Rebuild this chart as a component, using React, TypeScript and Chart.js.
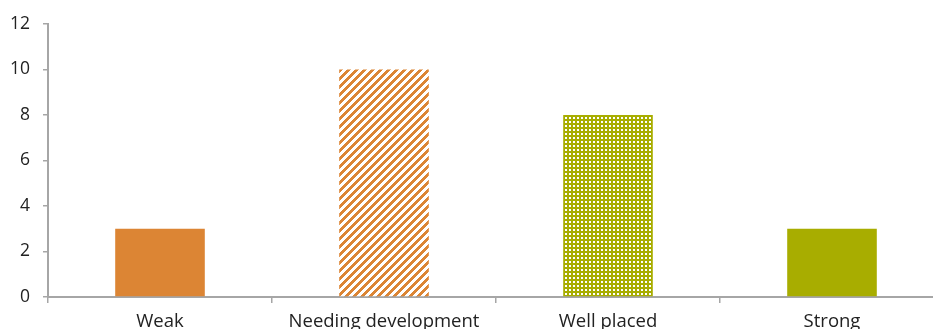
import React, { useEffect, useRef } from "react";
import { Chart, registerables } from "chart.js";

Chart.register(...registerables);

const categories = ["Weak", "Needing development", "Well placed", "Strong"];
const values = [3, 10, 8, 3];
const yTicks = [0, 2, 4, 6, 8, 10, 12];

const ORANGE = "#DC8534";
const OLIVE = "#A8AD00";

function stripePattern(): CanvasPattern | string {
  const c = document.createElement("canvas");
  c.width = 8;
  c.height = 8;
  const g = c.getContext("2d");
  if (!g) return ORANGE;
  g.fillStyle = "#ffffff";
  g.fillRect(0, 0, 8, 8);
  g.fillStyle = ORANGE;
  for (let y = 0; y < 8; y++) {
    for (let x = 0; x < 8; x++) {
      const d = (x + y) % 8;
      if (d < 4) g.fillRect(x, y, 1, 1);
    }
  }
  const p = g.createPattern(c, "repeat");
  return p || ORANGE;
}

function dotPattern(): CanvasPattern | string {
  const c = document.createElement("canvas");
  c.width = 4;
  c.height = 4;
  const g = c.getContext("2d");
  if (!g) return OLIVE;
  g.fillStyle = OLIVE;
  g.fillRect(0, 0, 4, 4);
  g.fillStyle = "#ffffff";
  g.fillRect(1, 1, 2, 2);
  const p = g.createPattern(c, "repeat");
  return p || OLIVE;
}

export default function App() {
  const ref = useRef<HTMLCanvasElement | null>(null);
  useEffect(() => {
    if (!ref.current) return;
    const fills = [ORANGE, stripePattern(), dotPattern(), OLIVE];
    const chart = new Chart(ref.current, {
      type: "bar",
      data: {
        labels: categories,
        datasets: [
          {
            data: values,
            backgroundColor: fills as any,
            borderWidth: 0,
            barPercentage: 0.4,
            categoryPercentage: 1,
          },
        ],
      },
      options: {
        animation: false,
        responsive: false,
        maintainAspectRatio: false,
        layout: { padding: { top: 24, right: 16, bottom: 0, left: 0 } },
        plugins: { legend: { display: false }, tooltip: { enabled: false } },
        scales: {
          x: {
            offset: true,
            grid: {
              offset: true,
              drawOnChartArea: false,
              drawTicks: true,
              tickLength: 6,
              color: "#A6A6A6",
              lineWidth: 1.5,
            },
            border: { display: true, color: "#A6A6A6", width: 2 },
            ticks: {
              color: "#222222",
              font: { family: "Open Sans", size: 18.5 },
              padding: 8,
              maxRotation: 0,
              autoSkip: false,
            },
            afterFit: (s: any) => {
              s.height = 48;
            },
          },
          y: {
            min: 0,
            max: 12,
            afterBuildTicks: (s: any) => {
              s.ticks = yTicks.map((v) => ({ value: v }));
            },
            grid: {
              drawOnChartArea: false,
              drawTicks: true,
              tickLength: 5,
              color: "#A6A6A6",
              lineWidth: 1.5,
            },
            border: { display: true, color: "#A6A6A6", width: 2 },
            ticks: {
              color: "#222222",
              font: { family: "Open Sans", size: 17.5 },
              padding: 13,
            },
            afterFit: (s: any) => {
              s.width = 48;
            },
          },
        },
      },
    });
    return () => chart.destroy();
  }, []);
  return (
    <div
      style={{
        position: "fixed",
        left: 0,
        top: 0,
        width: 933,
        height: 329,
        overflow: "hidden",
        background: "#fff",
      }}
    >
      <canvas ref={ref} width={960} height={345} style={{ width: 960, height: 345, display: "block" }} />
    </div>
  );
}
